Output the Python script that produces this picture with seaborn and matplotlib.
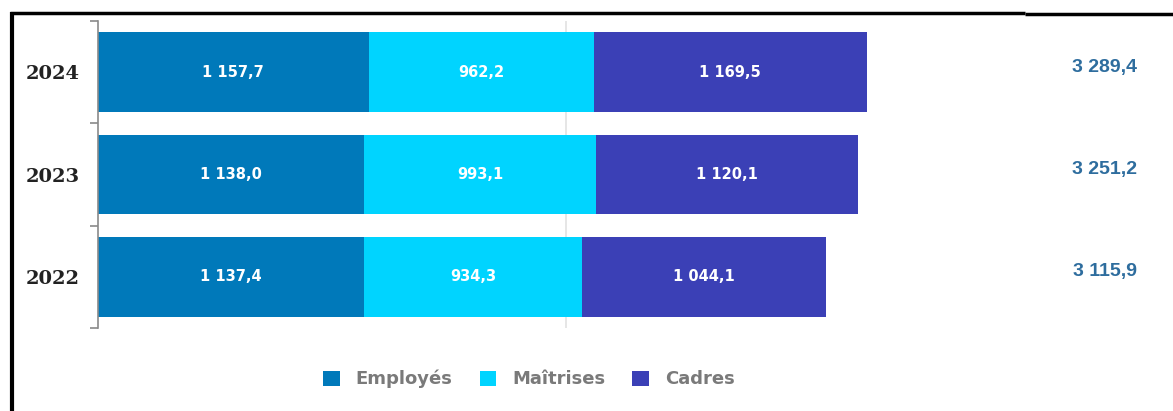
import matplotlib
matplotlib.use("Agg")
import matplotlib.pyplot as plt
import seaborn as sns
import pandas as pd
from matplotlib.lines import Line2D
from matplotlib.patches import Patch
import matplotlib.transforms as mtransforms

# === DONNÉES ===
annees = ["2024", "2023", "2022"]
employes = [1157.7, 1138.0, 1137.4]
maitrises = [962.2, 993.1, 934.3]
cadres = [1169.5, 1120.1, 1044.1]
totaux = [3289.4, 3251.2, 3115.9]

categories = ["Employés", "Maîtrises", "Cadres"]
couleurs = ["#0079BA", "#00D4FF", "#3B40B6"]


def fr(v):
    # format français : espace pour les milliers, virgule décimale
    return f"{v:,.1f}".replace(",", " ").replace(".", ",")


df = pd.DataFrame({"Annee": annees, "Employés": employes,
                   "Maîtrises": maitrises, "Cadres": cadres})
df["cum_emp"] = df["Employés"]
df["cum_mai"] = df["cum_emp"] + df["Maîtrises"]
df["cum_cad"] = df["cum_mai"] + df["Cadres"]

# === FIGURE ===
sns.set_style("white")
plt.rcParams["font.family"] = ["DejaVu Sans"]

fig = plt.figure(figsize=(11.73, 4.11), dpi=100)
ax = fig.add_axes([98 / 1173, 1 - 328 / 411, 935 / 1173, 307 / 411])

ax.axvline(2000, color="#e2e2e2", lw=1.2, zorder=0)

# barres empilées : du cumul le plus long au plus court
for col, c in zip(["cum_cad", "cum_mai", "cum_emp"], couleurs[::-1]):
    sns.barplot(data=df, y="Annee", x=col, color=c, width=0.78,
                orient="h", ax=ax, linewidth=0, saturation=1, zorder=2)

# étiquettes dans les segments
for i in range(len(annees)):
    bases = [0, employes[i], employes[i] + maitrises[i]]
    vals = [employes[i], maitrises[i], cadres[i]]
    for b, v in zip(bases, vals):
        ax.text(b + v / 2, i, fr(v), ha="center", va="center", color="white",
                fontsize=10.5, fontweight="bold", zorder=3)

# totaux à droite
trans = mtransforms.blended_transform_factory(ax.transAxes, ax.transData)
for i, t in enumerate(totaux):
    ax.text(1.077, i - 0.05, fr(t), transform=trans, ha="center", va="center",
            color="#2E6D9E", fontsize=14, fontweight="bold",
            family="Liberation Sans")

ax.set_xlim(0, 4000)
ax.set_ylim(2.5, -0.5)
ax.set_xlabel("")
ax.set_ylabel("")
ax.set_xticks([])
for s in ["top", "right", "bottom"]:
    ax.spines[s].set_visible(False)
ax.spines["left"].set_color("#8a8a8a")
ax.spines["left"].set_linewidth(1.2)
ax.set_yticks([-0.5, 0.5, 1.5, 2.5], minor=True)
ax.tick_params(axis="y", which="minor", left=True, length=6, width=1.2,
               color="#8a8a8a", direction="out")
ax.tick_params(axis="y", which="major", left=False, length=0, pad=13)
for lab in ax.get_yticklabels():
    lab.set_fontfamily("DejaVu Serif")
    lab.set_fontweight("bold")
    lab.set_fontsize(14)
    lab.set_color("#222222")

# légende
handles = [Patch(facecolor=c, edgecolor="none") for c in couleurs]
leg = fig.legend(handles, categories, loc="center",
                 bbox_to_anchor=(529 / 1173, 1 - 379 / 411),
                 ncol=3, frameon=False, handlelength=0.9, handleheight=0.9,
                 handletextpad=0.9, columnspacing=1.5,
                 prop={"size": 13, "weight": "bold"})
for t in leg.get_texts():
    t.set_color("#7a7a7a")

# cadre noir
fig.add_artist(Line2D([10 / 1173, 1025 / 1173], [1 - 13.5 / 411] * 2,
                      color="black", lw=2.5, solid_capstyle="butt"))
fig.add_artist(Line2D([1025 / 1173, 1], [1 - 14.5 / 411] * 2,
                      color="black", lw=2.5, solid_capstyle="butt"))
fig.add_artist(Line2D([12 / 1173] * 2, [0, 1 - 12 / 411],
                      color="black", lw=3, solid_capstyle="butt"))

fig.savefig("out.png", dpi=100)
